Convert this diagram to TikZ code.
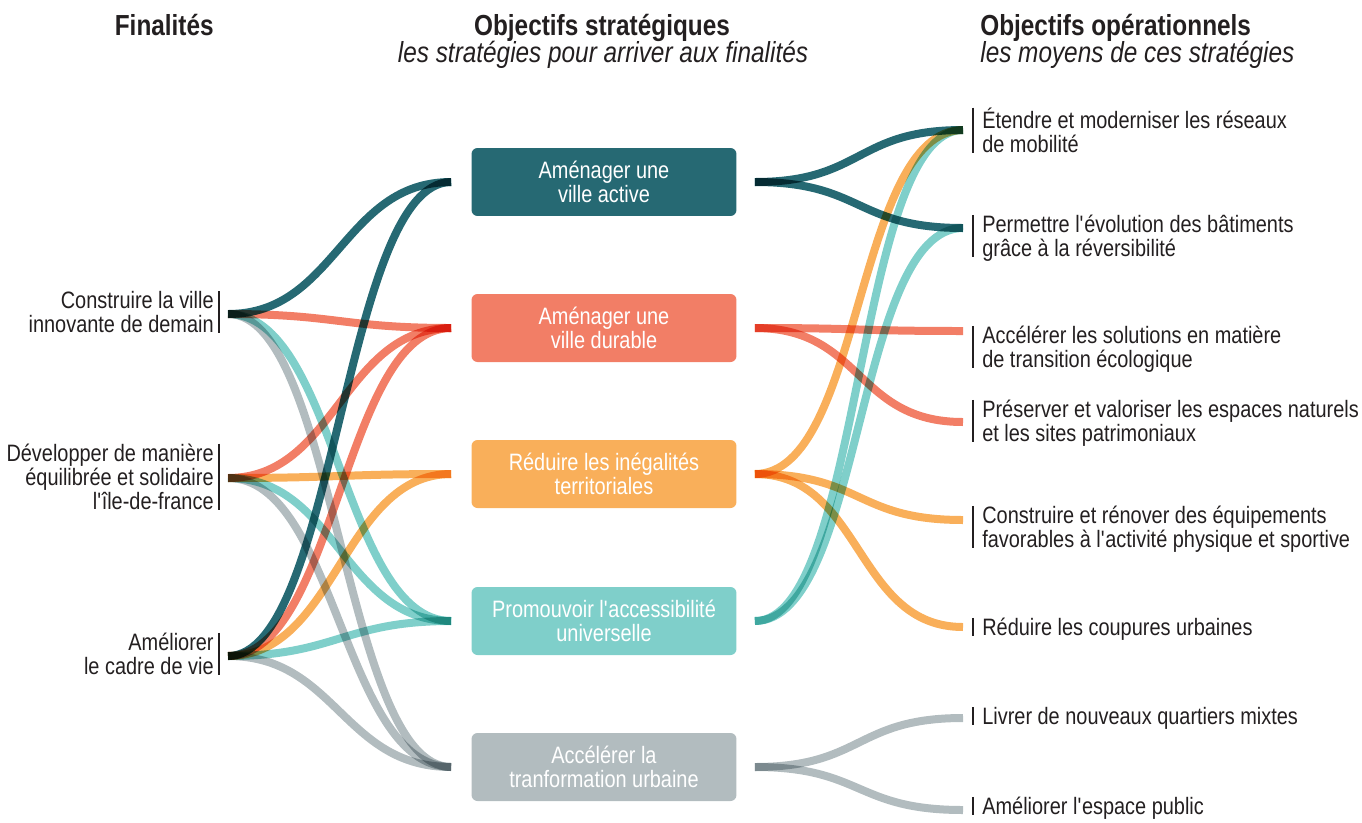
\documentclass[tikz,border=0pt]{standalone}
\usepackage{fontspec}
\setmainfont{Liberation Sans}[FakeStretch=0.84]
\usepackage{tikz}
\usetikzlibrary{calc}
\usetikzlibrary{positioning}
\definecolor{textcol}{HTML}{231F20}
\definecolor{activecol}{HTML}{266973}
\definecolor{durablecol}{HTML}{F27E66}
\definecolor{reduirecol}{HTML}{F9AF5A}
\definecolor{accescol}{HTML}{7FCFCA}
\definecolor{urbaincol}{HTML}{B2BCBF}
\newcommand{\apo}{\textquotesingle}
\tikzset{every picture/.style={x=0.02cm,y=-0.02cm},
titre/.style={font=\bfseries\fontsize{16.5}{18}\selectfont,text=textcol,inner sep=0pt},
soustitre/.style={font=\itshape\fontsize{16.5}{18}\selectfont,text=textcol,inner sep=0pt},
finalite/.style={font=\fontsize{13.5}{13.7}\selectfont,text=textcol,align=right,inner xsep=2.85pt,inner ysep=0pt,text depth=0pt},
moyen/.style={font=\fontsize{13.5}{13.7}\selectfont,text=textcol,align=left,inner xsep=5.1pt,inner ysep=0pt,text depth=0pt},
objectif/.style={fill=#1,rounded corners=3.4pt,minimum width=5.3cm,minimum height=1.36cm,text=white,align=center,font=\fontsize{13.5}{13.7}\selectfont},
barre/.style={draw=textcol,line width=1.1pt},
flux/.style={line width=4.55pt,blend mode=multiply}}
% a flow from one column to the next
\newcommand{\flux}[3]{\draw[flux,draw=#1] (#2) .. controls ($(#2)+(108,0)$) and ($(#3)+(-108,0)$) .. (#3);}

\begin{document}
\begin{tikzpicture}
\useasboundingbox (0,0) rectangle (1362,822);

% column titles
\node[titre,anchor=base east] (titre-fin) at (214,35) {Finalités};
\node[titre,anchor=base] (titre-strat) at (602,35) {Objectifs stratégiques};
\node[soustitre,anchor=base] (sous-strat) at (603,62) {les stratégies pour arriver aux finalités};
\node[titre,anchor=base west] (titre-oper) at (980,35) {Objectifs opérationnels};
\node[soustitre,anchor=base west] (sous-oper) at (980,62) {les moyens de ces stratégies};

% finalites
\node[finalite,anchor=south east] (construire) at (219,333) {Construire la ville\\innovante de demain};
\node[finalite,anchor=south east] (developper) at (219,510) {Développer de manière\\équilibrée et solidaire\\l\apo île-de-france};
\node[finalite,anchor=south east] (ameliorer) at (219,675) {Améliorer\\le cadre de vie};
\foreach \n in {construire,developper,ameliorer}
  \draw[barre] (\n.north east) -- (\n.south east);
\coordinate (construire-o) at (228,314);
\coordinate (developper-o) at (228,478);
\coordinate (ameliorer-o) at (228,656);

% objectifs strategiques
\node[objectif=activecol] (active) at (604,182) {Aménager une\\ville active};
\node[objectif=durablecol] (durable) at (604,328) {Aménager une\\ville durable};
\node[objectif=reduirecol] (inegalites) at (604,474) {Réduire les inégalités\\territoriales};
\node[objectif=accescol] (acces) at (604,621) {Promouvoir l\apo accessibilité\\universelle};
\node[objectif=urbaincol] (urbaine) at (604,767) {Accélérer la\\tranformation urbaine};
\foreach \n in {active,durable,inegalites,acces,urbaine} {
  \coordinate (\n-i) at ($(\n.west)+(-20,0)$);
  \coordinate (\n-o) at ($(\n.east)+(18,0)$);
}

% objectifs operationnels
\node[moyen,anchor=south west] (reseaux) at (973,153) {Étendre et moderniser les réseaux\\de mobilité};
\node[moyen,anchor=south west] (batiments) at (973,257) {Permettre l\apo évolution des bâtiments\\grâce à la réversibilité};
\node[moyen,anchor=south west] (transition) at (973,368) {Accélérer les solutions en matière\\de transition écologique};
\node[moyen,anchor=south west] (naturels) at (973,442) {Préserver et valoriser les espaces naturels\\et les sites patrimoniaux};
\node[moyen,anchor=south west] (equipements) at (973,548) {Construire et rénover des équipements\\favorables à l\apo activité physique et sportive};
\node[moyen,anchor=south west] (coupures) at (973,636) {Réduire les coupures urbaines};
\node[moyen,anchor=south west] (quartiers) at (973,725) {Livrer de nouveaux quartiers mixtes};
\node[moyen,anchor=south west] (espace) at (973,815) {Améliorer l\apo espace public};
\foreach \n in {reseaux,batiments,transition,naturels,equipements,coupures,quartiers,espace}
  \draw[barre] (\n.north west) -- (\n.south west);
\coordinate (reseaux-i) at (963,130);
\coordinate (batiments-i) at (963,228);
\coordinate (transition-i) at (963,331);
\coordinate (naturels-i) at (963,422);
\coordinate (equipements-i) at (963,520);
\coordinate (coupures-i) at (963,627);
\coordinate (quartiers-i) at (963,718);
\coordinate (espace-i) at (963,810);

% flows, finalites -> strategies
\flux{activecol}{construire-o}{active-i}
\flux{durablecol}{construire-o}{durable-i}
\flux{accescol}{construire-o}{acces-i}
\flux{urbaincol}{construire-o}{urbaine-i}
\flux{durablecol}{developper-o}{durable-i}
\flux{reduirecol}{developper-o}{inegalites-i}
\flux{accescol}{developper-o}{acces-i}
\flux{urbaincol}{developper-o}{urbaine-i}
\flux{activecol}{ameliorer-o}{active-i}
\flux{durablecol}{ameliorer-o}{durable-i}
\flux{reduirecol}{ameliorer-o}{inegalites-i}
\flux{accescol}{ameliorer-o}{acces-i}
\flux{urbaincol}{ameliorer-o}{urbaine-i}

% flows, strategies -> moyens
\flux{activecol}{active-o}{reseaux-i}
\flux{activecol}{active-o}{batiments-i}
\flux{durablecol}{durable-o}{transition-i}
\flux{durablecol}{durable-o}{naturels-i}
\flux{reduirecol}{inegalites-o}{reseaux-i}
\flux{reduirecol}{inegalites-o}{equipements-i}
\flux{reduirecol}{inegalites-o}{coupures-i}
\flux{accescol}{acces-o}{reseaux-i}
\flux{accescol}{acces-o}{batiments-i}
\flux{urbaincol}{urbaine-o}{quartiers-i}
\flux{urbaincol}{urbaine-o}{espace-i}
\end{tikzpicture}
\end{document}
